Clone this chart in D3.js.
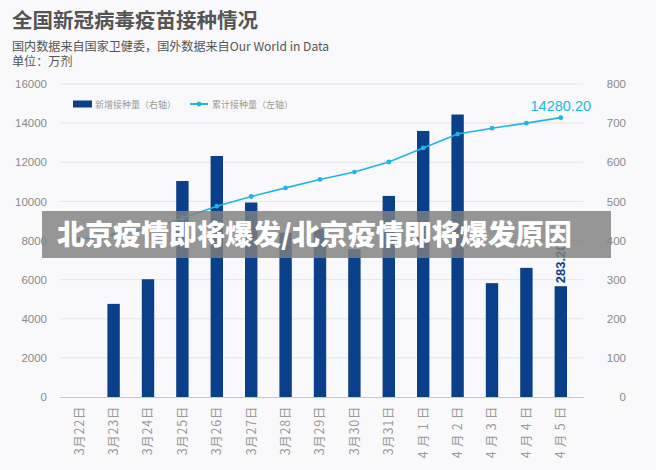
<!DOCTYPE html>
<html><head><meta charset="utf-8">
<script src="https://cdn.jsdelivr.net/npm/d3@7"></script>
<style>
html,body{margin:0;padding:0;background:#f9f9fb;}
svg{display:block;}
</style></head>
<body>
<svg id="chart" width="656" height="470"></svg>
<script>
const categories = ["3月22日","3月23日","3月24日","3月25日","3月26日","3月27日","3月28日","3月29日","3月30日","3月31日","4 月 1 日","4 月 2 日","4 月 3 日","4 月 4 日","4 月 5 日"];
const dailyDoses = [0, 238, 301, 552, 616, 497, 420, 430, 378, 514, 680, 722, 291, 330, 283.2];
const cumulativeDoses = [8046, 8284, 8585, 9137, 9753, 10250, 10690, 11120, 11498, 12012, 12730, 13440, 13740, 14000, 14280.2];
const leftTicks = [0, 2000, 4000, 6000, 8000, 10000, 12000, 14000, 16000];
const rightTicks = [0, 100, 200, 300, 400, 500, 600, 700, 800];

const svg = d3.select("#chart");
const CJK = "'Noto Sans CJK SC','Noto Sans',sans-serif";
const NUM = "'Liberation Sans','Noto Sans CJK SC',sans-serif";
const barColor = "#0a3f8a", lineColor = "#1fb6e2";

svg.append("rect").attr("width",656).attr("height",470).attr("fill","#f9f9fb");

// Titles
svg.append("text").attr("x",12).attr("y",28).text("全国新冠病毒疫苗接种情况")
  .attr("font-family",CJK).attr("font-size",20.5).attr("font-weight",700).attr("fill","#555");
svg.append("text").attr("x",12).attr("y",50.5).text("国内数据来自国家卫健委，国外数据来自Our World in Data")
  .attr("font-family",CJK).attr("font-size",12.1).attr("fill","#555");
svg.append("text").attr("x",12).attr("y",66).text("单位：万剂")
  .attr("font-family",CJK).attr("font-size",12.1).attr("fill","#555");

const x = d3.scaleBand().domain(categories).range([62,578]).paddingInner(0.64).paddingOuter(0.32);
const yL = d3.scaleLinear().domain([0,16000]).range([397,84]);
const yR = d3.scaleLinear().domain([0,800]).range([397,84]);

// gridlines
svg.append("g").selectAll("line").data(leftTicks.filter(d=>d>0)).join("line")
  .attr("x1",60).attr("x2",583).attr("y1",d=>yL(d)).attr("y2",d=>yL(d))
  .attr("stroke","#e4e4e8").attr("stroke-width",1);

// left axis
const gL = svg.append("g").attr("transform","translate(47,0)")
  .call(d3.axisLeft(yL).tickValues(leftTicks).tickSize(0).tickPadding(0).tickFormat(d3.format("d")));
gL.select(".domain").remove();
gL.selectAll("text").attr("font-family",NUM).attr("font-size",11.5).attr("fill","#8a8a8a");

// right axis
const gR = svg.append("g").attr("transform","translate(626,0)")
  .call(d3.axisLeft(yR).tickValues(rightTicks).tickSize(0).tickPadding(0).tickFormat(d3.format("d")));
gR.select(".domain").remove();
gR.selectAll("text").attr("font-family",NUM).attr("font-size",11.5).attr("fill","#8a8a8a");

// bars
svg.append("g").selectAll("rect").data(categories).join("rect")
  .attr("x",(c)=>x(c)).attr("width",x.bandwidth())
  .attr("y",(c,i)=>yR(dailyDoses[i])).attr("height",(c,i)=>yR(0)-yR(dailyDoses[i]))
  .attr("fill",barColor);

// x axis
const gX = svg.append("g").attr("transform","translate(0,397)")
  .call(d3.axisBottom(x).tickSize(0).tickPadding(0));
gX.select(".domain").attr("d","M60,0.5H584").attr("stroke","#c8c8cc");
gX.selectAll("text").attr("transform","translate(0,9) rotate(-90)")
  .attr("text-anchor","end").attr("dy","0.35em").attr("dx",0).attr("y",0)
  .attr("letter-spacing","0.7px")
  .attr("font-family",CJK).attr("font-size",12.5).attr("fill","#9a9a9a");

// line
const line = d3.line().x((d,i)=>x(categories[i])+x.bandwidth()/2).y(d=>yL(d));
svg.append("path").datum(cumulativeDoses).attr("d",line)
  .attr("fill","none").attr("stroke",lineColor).attr("stroke-width",1.6);
svg.append("g").selectAll("circle").data(cumulativeDoses).join("circle")
  .attr("cx",(d,i)=>x(categories[i])+x.bandwidth()/2).attr("cy",d=>yL(d)).attr("r",2.4)
  .attr("fill",lineColor);

// labels
const last = categories.length-1;
svg.append("text").attr("x",x(categories[last])+x.bandwidth()/2).attr("y",yL(cumulativeDoses[last])-7)
  .attr("text-anchor","middle").text(d3.format(".2f")(cumulativeDoses[last]))
  .attr("font-family",NUM).attr("font-size",14.5).attr("fill",lineColor);
svg.append("text")
  .attr("transform",`translate(${x(categories[last])+x.bandwidth()/2+4.5},${yR(dailyDoses[last])-3}) rotate(-90)`)
  .text(d3.format(".2f")(dailyDoses[last]))
  .attr("font-family",NUM).attr("font-size",13).attr("font-weight",700).attr("fill",barColor);

// legend
svg.append("rect").attr("x",73).attr("y",100.5).attr("width",19).attr("height",7).attr("fill",barColor);
svg.append("text").attr("x",95).attr("y",107.5).text("新增接种量（右轴）")
  .attr("font-family",CJK).attr("font-size",9).attr("fill","#999");
svg.append("line").attr("x1",190).attr("x2",208).attr("y1",104).attr("y2",104)
  .attr("stroke",lineColor).attr("stroke-width",2);
svg.append("circle").attr("cx",199).attr("cy",104).attr("r",2.4).attr("fill",lineColor);
svg.append("text").attr("x",212).attr("y",107.5).text("累计接种量（左轴）")
  .attr("font-family",CJK).attr("font-size",9).attr("fill","#999");

// overlay banner
svg.append("rect").attr("x",42).attr("y",211).attr("width",569).attr("height",47)
  .attr("fill","rgb(128,128,128)").attr("fill-opacity",0.82);
svg.append("text").attr("x",57).attr("y",245).text("北京疫情即将爆发/北京疫情即将爆发原因")
  .attr("font-family",CJK).attr("font-size",28).attr("font-weight",900).attr("fill","#fff");
</script>
</body></html>
